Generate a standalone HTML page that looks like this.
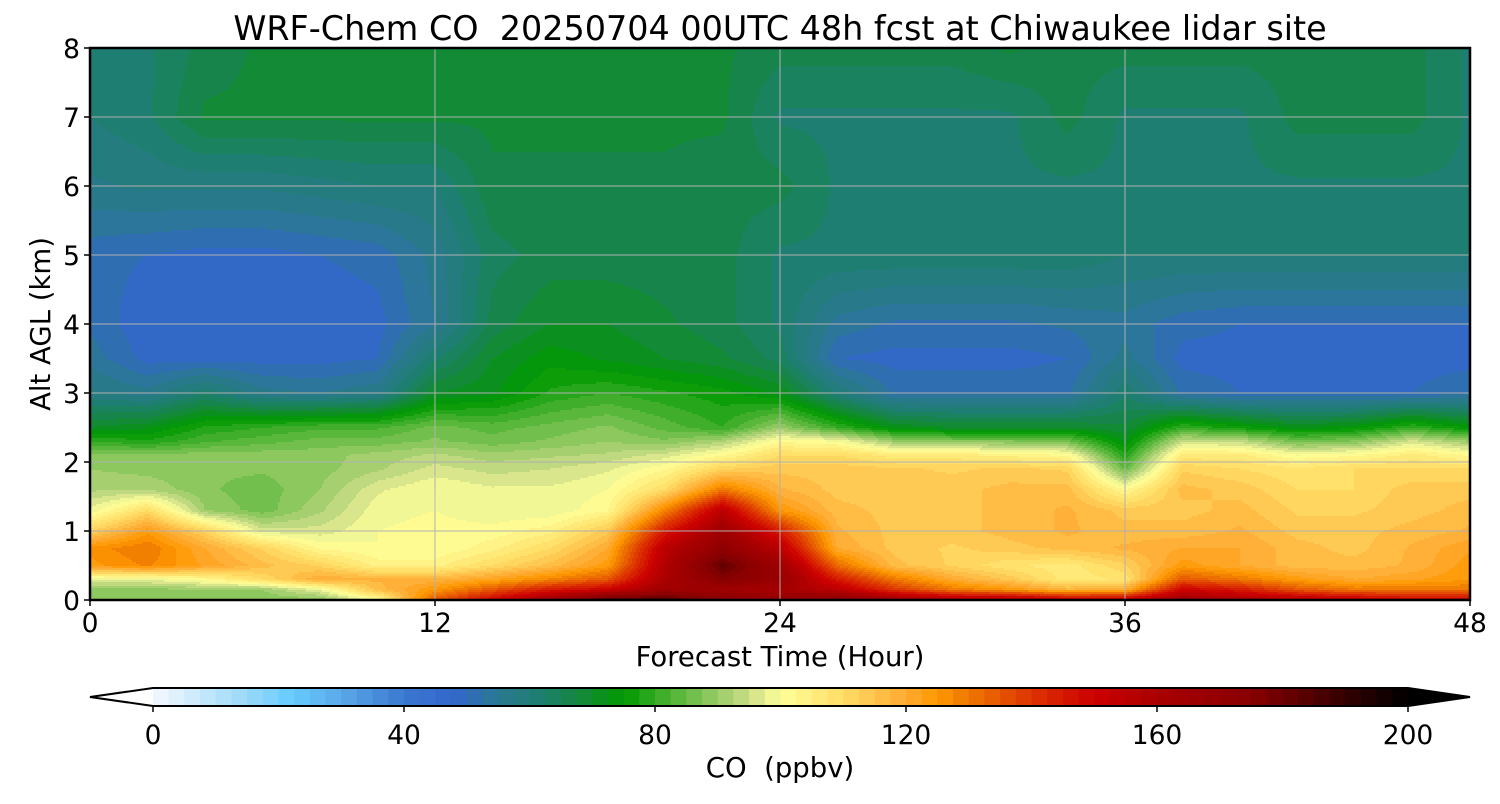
<!DOCTYPE html>
<html><head><meta charset="utf-8"><style>
body{margin:0;background:#fff;font-family:"DejaVu Sans","Liberation Sans",sans-serif;}
svg text{font-family:"DejaVu Sans","Liberation Sans",sans-serif;fill:#000;}
</style></head><body>
<svg id="chart" width="1500" height="800" viewBox="0 0 1500 800" xmlns="http://www.w3.org/2000/svg">
<rect width="1500" height="800" fill="#fff"/>
<text x="780" y="40" font-size="33.4" text-anchor="middle" xml:space="preserve">WRF-Chem CO  20250704 00UTC 48h fcst at Chiwaukee lidar site</text>
<g id="heat"></g>
<g id="grid"></g>
<rect x="90" y="48" width="1380" height="552" fill="none" stroke="#000" stroke-width="2.5"/>
<g id="axes"></g>
<text x="780" y="666" font-size="27.5" text-anchor="middle">Forecast Time (Hour)</text>
<text transform="translate(50,324) rotate(-90)" font-size="27.5" text-anchor="middle">Alt AGL (km)</text>
<g id="cbar"></g>
<text x="780" y="777" font-size="27.5" text-anchor="middle" xml:space="preserve">CO  (ppbv)</text>
</svg>
<script>
const hours = [0,2,4,6,8,10,12,14,16,18,20,22,24,26,28,30,32,34,36,38,40,42,44,46,48];
const altitudes = [0,0.15,0.3,0.5,0.75,1.0,1.3,1.6,1.9,2.1,2.3,2.5,3,3.5,4,5,6,7,8];
const coValues = [
[88,88,88,88,88,100,135,150,165,185,185,175,170,175,165,160,160,155,155,165,160,158,155,150,150],
[89,89,90,90,98,116,125,135,145,150,165,165,162,155,140,130,125,118,120,150,145,135,130,130,130],
[98,98,102,110,120,118,118,122,128,135,160,175,168,145,130,120,114,106,108,135,130,124,120,122,125],
[124,128,122,116,112,104,104,110,116,124,158,182,165,132,116,112,108,106,112,124,120,116,116,118,124],
[126,130,120,112,102,100,100,104,110,120,155,172,155,120,114,112,114,116,118,120,120,116,114,118,122],
[112,124,112,96,96,100,101,101,104,114,145,165,145,118,114,114,116,118,116,116,118,114,114,116,118],
[98,110,90,86,92,99,100,98,98,102,128,155,125,116,114,114,116,118,114,114,116,112,112,114,116],
[92,92,88,86,90,97,100,98,98,100,110,130,118,114,114,114,116,116,102,116,114,110,110,114,114],
[90,89,88,88,89,92,96,94,95,97,102,112,114,114,113,112,113,112,85,112,110,108,110,110,110],
[88,88,89,89,89,91,93,91,92,93,96,102,110,110,106,106,104,102,78,106,106,100,102,106,102],
[80,78,82,84,86,86,88,86,88,90,88,92,102,100,90,88,88,86,72,95,94,86,88,96,90],
[70,72,78,80,82,82,86,84,86,88,84,80,90,80,72,70,70,70,68,80,76,72,74,80,74],
[58,56,62,56,55,57,70,72,78,80,78,76,72,60,52,52,52,52,62,52,50,50,50,50,52],
[54,49,49,49,49,50,62,70,74,72,70,68,64,50,49,49,49,50,56,49,49,49,49,49,49],
[52,48,48,48,48,49,55,66,70,70,68,66,62,54,52,52,52,53,54,51,50,50,50,50,50],
[51,50,49,49,50,51,56,64,66,66,66,66,62,62,62,62,62,62,60,60,60,60,60,60,60],
[57,58,58,58,59,60,60,67,67,67,67,66,66,62,62,62,62,62,62,62,62,62,62,62,62],
[60,62,68,68,68,68,68,68,68,68,68,68,62,62,62,62,62,66,62,62,62,66,66,66,62],
[62,62,66,68,68,68,68,68,68,68,68,68,66,66,66,66,68,66,66,66,66,66,66,66,62]
];
const xTicks = [0,12,24,36,48];
const yTicks = [0,1,2,3,4,5,6,7,8];
const cbTicks = [0,40,80,120,160,200];

const anchors=[[0,'#f5f9ff'],[15,'#99d8f8'],[22,'#66ccff'],[30,'#5aa8e8'],[40,'#3a78d0'],[48,'#3366cc'],[55,'#2a7890'],[62,'#1e7f6e'],[68,'#14883c'],[75,'#009900'],[80,'#33aa22'],[85,'#66bb44'],[90,'#99cc66'],[95,'#ccdd88'],[100,'#ffff99'],[110,'#ffdd66'],[120,'#ffaa33'],[125,'#ff9900'],[130,'#ee7700'],[140,'#dd3300'],[150,'#cc0000'],[160,'#aa0000'],[175,'#880000'],[190,'#330000'],[200,'#000000']];
function hx(c){return [1,3,5].map(i=>parseInt(c.substr(i,2),16));}
function cmap(v){
  if(v<=0)return anchors[0][1]; if(v>=200)return '#000000';
  for(let i=1;i<anchors.length;i++){if(v<=anchors[i][0]){const a=anchors[i-1],b=anchors[i];const t=(v-a[0])/(b[0]-a[0]);const ca=hx(a[1]),cb=hx(b[1]);return 'rgb('+ca.map((x,k)=>Math.round(x+(cb[k]-x)*t)).join(',')+')';}}
}
function levelColor(v){ if(v<0)return '#ffffff'; if(v>=200)return '#000000'; const l=Math.floor(v/2.5); return cmap(l*2.5+1.25);}
const X0=90,X1=1470,Y0=600,Y1=48;
const xs=h=>X0+(h-hours[0])/(hours[hours.length-1]-hours[0])*(X1-X0);
const ys=a=>Y0-(a/8)*(Y0-Y1);
function interp(h,a){
  let i=0;while(i<hours.length-2&&h>hours[i+1])i++;
  let j=0;while(j<altitudes.length-2&&a>altitudes[j+1])j++;
  const tx=(h-hours[i])/(hours[i+1]-hours[i]), ty=(a-altitudes[j])/(altitudes[j+1]-altitudes[j]);
  const v00=coValues[j][i],v01=coValues[j][i+1],v10=coValues[j+1][i],v11=coValues[j+1][i+1];
  return (v00*(1-tx)+v01*tx)*(1-ty)+(v10*(1-tx)+v11*tx)*ty;
}
const NS='http://www.w3.org/2000/svg';
const heat=document.getElementById('heat');
const dx=2,dy=2;
for(let py=Y1;py<Y0;py+=dy){
  const a=(Y0-(py+dy/2))/(Y0-Y1)*8;
  let runStart=X0,runCol=null;
  for(let px=X0;px<=X1;px+=dx){
    let col=null;
    if(px<X1){const h=(px+dx/2-X0)/(X1-X0)*48;col=levelColor(interp(h,a));}
    if(col!==runCol){
      if(runCol!==null){
        const r=document.createElementNS(NS,'rect');
        
        
        r.setAttribute('x',runStart);r.setAttribute('y',py);r.setAttribute('width',px-runStart+0.6);r.setAttribute('height',dy+0.6);r.setAttribute('fill',runCol);
        heat.appendChild(r);
      }
      runStart=px;runCol=col;
    }
  }
}
const grid=document.getElementById('grid'),axes=document.getElementById('axes');
function ln(g,x1,y1,x2,y2,s,w,name){const l=document.createElementNS(NS,'line');
  
  
  l.setAttribute('x1',x1);l.setAttribute('y1',y1);l.setAttribute('x2',x2);l.setAttribute('y2',y2);l.setAttribute('stroke',s);l.setAttribute('stroke-width',w);g.appendChild(l);}
function tx(g,x,y,s,anchor,fs,name){const t=document.createElementNS(NS,'text');
  
  
  t.setAttribute('x',x);t.setAttribute('y',y);t.setAttribute('text-anchor',anchor);t.setAttribute('font-size',fs);t.textContent=s;g.appendChild(t);}
xTicks.forEach(h=>{const x=xs(h);if(h>0&&h<48)ln(grid,x,Y1,x,Y0,'#b0b0b0',1,'x-grid-line');ln(axes,x,Y0,x,Y0+6,'#000',1.5,'x-tick');tx(axes,x,Y0+32,String(h),'middle',26.5,'x-tick-label');});
yTicks.forEach(a=>{const y=ys(a);if(a>0&&a<8)ln(grid,X0,y,X1,y,'#b0b0b0',1,'y-grid-line');ln(axes,X0-6,y,X0,y,'#000',1.5,'y-tick');tx(axes,X0-10,y+10,String(a),'end',26.5,'y-tick-label');});
const cb=document.getElementById('cbar');
const C0=153,C1=1408,CY=688,CH=18;
const cx=v=>C0+v/200*(C1-C0);
for(let l=0;l<80;l++){const r=document.createElementNS(NS,'rect');
  
  
  r.setAttribute('x',cx(l*2.5));r.setAttribute('y',CY);r.setAttribute('width',(C1-C0)/80+0.6);r.setAttribute('height',CH);r.setAttribute('fill',cmap(l*2.5+1.25));cb.appendChild(r);}
const under=document.createElementNS(NS,'polygon');


under.setAttribute('points',`${C0},${CY} 90,${CY+CH/2} ${C0},${CY+CH}`);under.setAttribute('fill','#fff');cb.appendChild(under);
const over=document.createElementNS(NS,'polygon');


over.setAttribute('points',`${C1},${CY} 1470,${CY+CH/2} ${C1},${CY+CH}`);over.setAttribute('fill','#000');cb.appendChild(over);
const outl=document.createElementNS(NS,'polygon');


outl.setAttribute('points',`90,${CY+CH/2} ${C0},${CY} ${C1},${CY} 1470,${CY+CH/2} ${C1},${CY+CH} ${C0},${CY+CH}`);outl.setAttribute('fill','none');outl.setAttribute('stroke','#000');outl.setAttribute('stroke-width',2);cb.appendChild(outl);
cbTicks.forEach(v=>{const x=cx(v);ln(cb,x,CY+CH,x,CY+CH+6,'#000',1.5,'colorbar-tick');tx(cb,x,CY+CH+38,String(v),'middle',26.5,'colorbar-tick-label');});
</script>
</body></html>
